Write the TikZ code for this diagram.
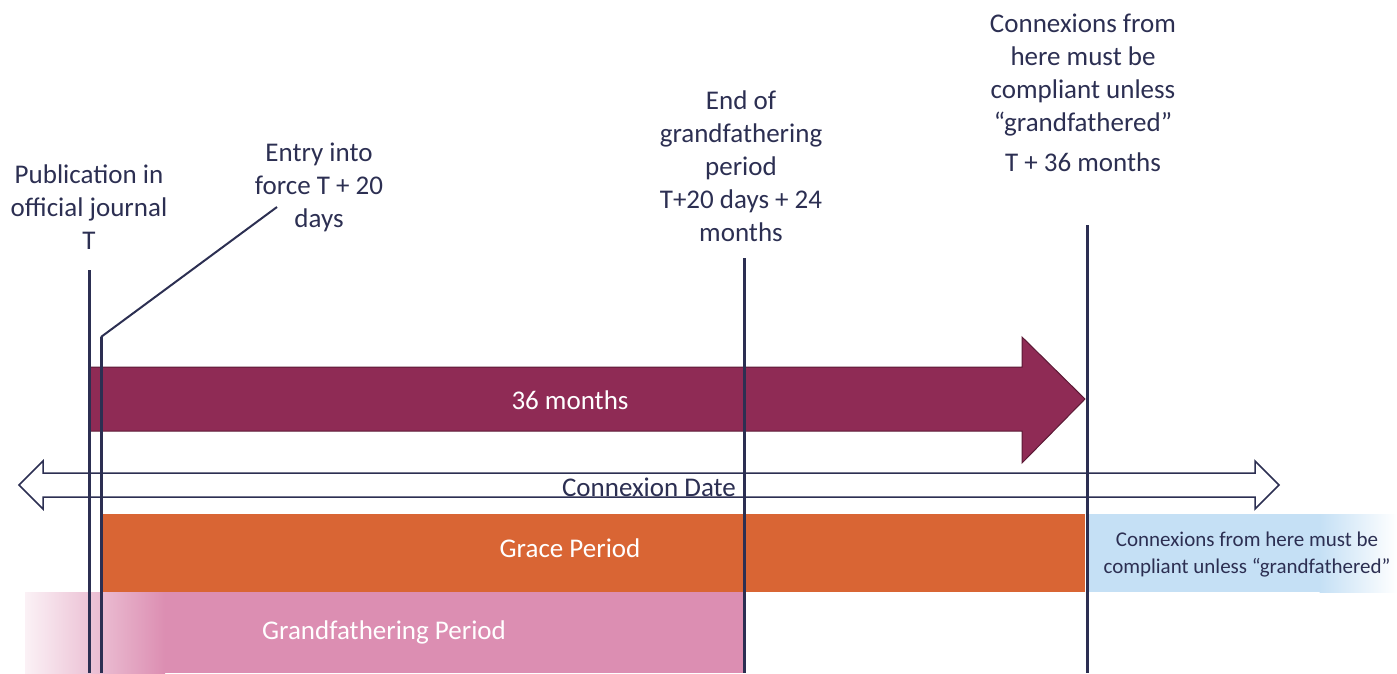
\documentclass[tikz,border=0pt]{standalone}
\usepackage{fontspec}
\setmainfont{Carlito}
\definecolor{navy}{HTML}{2C2F52}
\definecolor{maroon}{HTML}{8F2B55}
\definecolor{maroonedge}{HTML}{5C1A36}
\definecolor{gorange}{HTML}{D96534}
\definecolor{gpink}{HTML}{DC8EB2}
\definecolor{lblue}{HTML}{C5E0F5}
\begin{document}
\begin{tikzpicture}[x=1pt,y=-1pt,
  lbl/.style={text=navy, align=center, font=\fontsize{27}{33}\selectfont, inner sep=0pt},
  wlbl/.style={text=white, align=center, font=\fontsize{27}{33}\selectfont, inner sep=0pt},
  slbl/.style={text=navy, align=center, font=\fontsize{21}{27}\selectfont, inner sep=0pt},
  vline/.style={draw=navy, line width=3pt},
  dline/.style={draw=navy, line width=2pt}]
\useasboundingbox (0,0) rectangle (1397,673);

% big 36 months arrow
\fill[maroon, draw=maroonedge, line width=1pt]
  (89,367) -- (1022,367) -- (1022,337) -- (1085,399) -- (1022,463) -- (1022,431) -- (89,431) -- cycle;
\node[wlbl] (m36) at (570,400) {36 months};

% connexion date double arrow
\filldraw[fill=white, draw=navy, line width=1.5pt, line join=miter]
  (43,473) -- (1255,473) -- (1255,461) -- (1279,485) -- (1255,509) -- (1255,497)
  -- (43,497) -- (43,509) -- (19,485) -- (43,461) -- cycle;
\node[lbl] (cdate) at (649,487) {Connexion Date};

% grace period bar
\fill[gorange] (103,514) rectangle (1085,592);
\node[wlbl] (grace) at (570,548) {Grace Period};

% light blue box
\fill[lblue] (1087,514) rectangle (1320,592);
\shade[left color=lblue, right color=white] (1319.5,514) rectangle (1397,592);
\node[slbl] (compl) at (1247,555) {Connexions from here must be\\compliant unless “grandfathered”};

% grandfathering bar
\shade[left color=gpink!12, right color=gpink] (25,592) rectangle (165,673);
\fill[gpink] (164.5,592) rectangle (744,673);
\node[wlbl] (gfp) at (384,632) {Grandfathering Period};

% labels
\node[lbl] (pub) at (89,207) {Publication in\\official journal\\T};
\node[lbl] (entry) at (319,187) {Entry into\\force T + 20\\days};
\node[lbl] (endg) at (741,166) {End of\\grandfathering\\period\\T+20 days + 24\\months};
\node[lbl] (t36) at (1083,93) {Connexions from\\here must be\\compliant unless\\“grandfathered”\\[7pt]T + 36 months};

% coordinates for lines
\coordinate (pubtop) at (89,270);
\coordinate (pubbot) at (89,673);
\coordinate (entrytop) at (277,207);
\coordinate (entrykink) at (101,337);
\coordinate (entrybot) at (101,673);
\coordinate (endtop) at (744,258);
\coordinate (endbot) at (744,673);
\coordinate (t36top) at (1087,225);
\coordinate (t36bot) at (1087,673);

\draw[vline] (pubtop) -- (pubbot);
\draw[dline] (entrytop) -- (entrykink);
\draw[vline] (entrykink) -- (entrybot);
\draw[vline] (endtop) -- (endbot);
\draw[vline] (t36top) -- (t36bot);
\end{tikzpicture}
\end{document}
